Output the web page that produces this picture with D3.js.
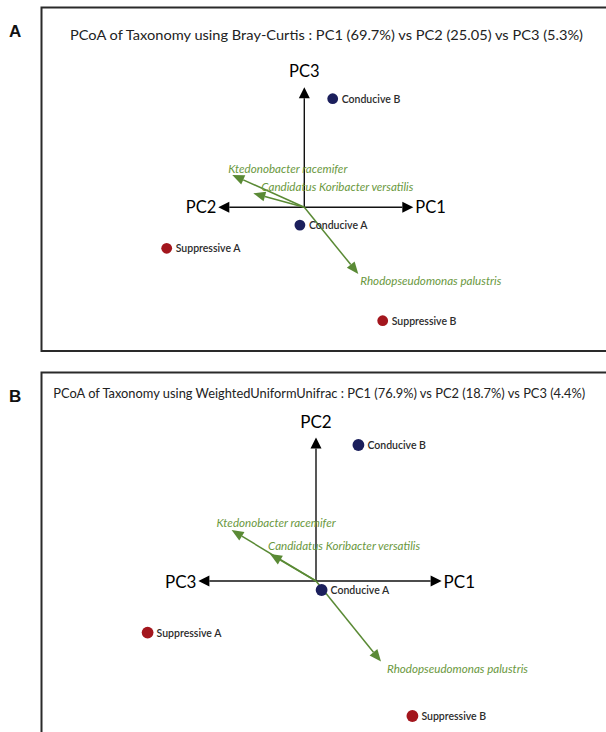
<!DOCTYPE html>
<html>
<head>
<meta charset="utf-8">
<script src="https://cdn.jsdelivr.net/npm/d3@7"></script>
<style>
  html, body { margin: 0; padding: 0; background: #fff; }
  svg { display: block; }
</style>
</head>
<body>
<svg id="fig" width="606" height="732"></svg>
<script>
// ---- data ---------------------------------------------------------------
const sampleNames  = ["Conducive A", "Conducive B", "Suppressive A", "Suppressive B"];
const sampleGroups = ["Conducive", "Conducive", "Suppressive", "Suppressive"];
const taxaNames    = ["Ktedonobacter racemifer", "Candidatus Koribacter versatilis", "Rhodopseudomonas palustris"];

// Bray-Curtis ordination (horizontal = PC1/PC2, vertical = PC3)
const braySampleX = [-0.022, 0.142, -0.688, 0.392];
const braySampleY = [-0.089, 0.543, -0.205, -0.567];
const brayTaxaX   = [-0.360, -0.255, 0.270];
const brayTaxaY   = [ 0.162,  0.070, -0.333];
const brayAxisX   = [-0.430, 0.545];   // PC2 arm (left), PC1 arm (right)
const brayAxisY   = [-0.600, 0.600];   // vertical extent, PC3 arm up
const brayAxisLabels = ["PC1", "PC2", "PC3"]; // right, left, up

// Weighted UniFrac ordination (horizontal = PC1/PC3, vertical = PC2)
const unifracSampleX = [0.028, 0.212, -0.842, 0.482];
const unifracSampleY = [-0.045, 0.680, -0.258, -0.675];
const unifracTaxaX   = [-0.422, -0.230, 0.325];
const unifracTaxaY   = [ 0.255,  0.135, -0.403];
const unifracAxisX   = [-0.588, 0.628];
const unifracAxisY   = [-0.720, 0.718];
const unifracAxisLabels = ["PC1", "PC2", "PC3"]; // right, up, left

const titles = [
  "PCoA of Taxonomy using Bray-Curtis : PC1 (69.7%) vs PC2 (25.05) vs PC3 (5.3%)",
  "PCoA of Taxonomy using WeightedUniformUnifrac : PC1 (76.9%) vs PC2 (18.7%) vs PC3 (4.4%)"
];
const panelLetters = ["A", "B"];

// ---- styling ------------------------------------------------------------
const groupColor = { Conducive: "#1b1f5c", Suppressive: "#a3161d" };
const arrowGreen = "#5a8a35";
const labelGreen = "#6a9840";
const FONT = "Lato, 'Open Sans', 'Liberation Sans', sans-serif";

const svg = d3.select("#fig");

// arrow head polygon pointing along (from -> tip)
function headPoints(x0, y0, x1, y1, len, wid) {
  const dx = x1 - x0, dy = y1 - y0, L = Math.hypot(dx, dy);
  const ux = dx / L, uy = dy / L, px = -uy, py = ux;
  const bx = x1 - ux * len, by = y1 - uy * len;
  return [[x1, y1], [bx + px * wid / 2, by + py * wid / 2], [bx - px * wid / 2, by - py * wid / 2]];
}

const panels = [
  {
    letter: panelLetters[0], title: titles[0],
    box: { x: 41.5, y: 7.5, w: 600, h: 343.5 },
    letterY: 37, titleX: 70, titleY: 39.5, titleW: 513, titleSize: 14,
    origin: [304.3, 207.3], k: 200,
    axisX: brayAxisX, axisY: brayAxisY,
    right: brayAxisLabels[0], left: brayAxisLabels[1], up: brayAxisLabels[2],
    sx: braySampleX, sy: braySampleY, tx: brayTaxaX, ty: brayTaxaY,
    r: 5.4, axisFont: 16.5,
    taxaShift: [[-4, -6], [8, -7], [2, 7]]
  },
  {
    letter: panelLetters[1], title: titles[1],
    box: { x: 41.5, y: 372.5, w: 600, h: 400 },
    letterY: 401.5, titleX: 53.3, titleY: 397.5, titleW: 532, titleSize: 12.5,
    origin: [316, 581], k: 200,
    axisX: unifracAxisX, axisY: unifracAxisY,
    right: unifracAxisLabels[0], up: unifracAxisLabels[1], left: unifracAxisLabels[2],
    sx: unifracSampleX, sy: unifracSampleY, tx: unifracTaxaX, ty: unifracTaxaY,
    r: 5.9, axisFont: 17,
    taxaShift: [[-15, -8], [-2, -9], [6, 7]]
  }
];

panels.forEach(p => {
  const g = svg.append("g");
  const [ox, oy] = p.origin;
  const x = d3.scaleLinear().domain(p.axisX).range([ox + p.axisX[0] * p.k, ox + p.axisX[1] * p.k]);
  const y = d3.scaleLinear().domain(p.axisY).range([oy - p.axisY[0] * p.k, oy - p.axisY[1] * p.k]);

  // frame
  g.append("rect")
    .attr("x", p.box.x).attr("y", p.box.y).attr("width", p.box.w).attr("height", p.box.h)
    .attr("fill", "none").attr("stroke", "#2a2a2a").attr("stroke-width", 2);

  // panel letter
  g.append("text").attr("x", 9).attr("y", p.letterY)
    .attr("font-family", "'Liberation Sans', Arial, sans-serif")
    .attr("font-weight", "bold").attr("font-size", 17).attr("fill", "#111")
    .text(p.letter);

  // title
  g.append("text").attr("x", p.titleX).attr("y", p.titleY)
    .attr("font-family", FONT).attr("font-size", p.titleSize).attr("fill", "#222")
    .attr("textLength", p.titleW).attr("lengthAdjust", "spacingAndGlyphs")
    .text(p.title);

  // axes: right, left and up arms with filled heads
  const x0 = x(0), y0 = y(0);
  const arms = [
    { x1: x(p.axisX[1]), y1: y0, label: p.right, anchor: "start", dx: 2, dy: 0 },
    { x1: x(p.axisX[0]), y1: y0, label: p.left, anchor: "end", dx: -2, dy: 0 },
    { x1: x0, y1: y(p.axisY[1]), label: p.up, anchor: "middle", dx: 0, dy: -16 }
  ];
  arms.forEach(a => {
    const head = headPoints(x0, y0, a.x1, a.y1, 11, 11);
    const bx = (head[1][0] + head[2][0]) / 2, by = (head[1][1] + head[2][1]) / 2;
    g.append("line").attr("x1", x0).attr("y1", y0).attr("x2", bx).attr("y2", by)
      .attr("stroke", "#111").attr("stroke-width", 1.4);
    g.append("polygon").attr("points", head.map(d => d.join(",")).join(" ")).attr("fill", "#000");
    g.append("text").attr("x", a.x1 + a.dx).attr("y", a.y1 + a.dy)
      .attr("text-anchor", a.anchor).attr("dominant-baseline", "central")
      .attr("font-family", FONT).attr("font-size", p.axisFont).attr("fill", "#000")
      .text(a.label);
  });

  // taxa vectors
  taxaNames.forEach((name, i) => {
    const tx = x(p.tx[i]), ty = y(p.ty[i]);
    const head = headPoints(x0, y0, tx, ty, 12, 10);
    const bx = (head[1][0] + head[2][0]) / 2, by = (head[1][1] + head[2][1]) / 2;
    g.append("line").attr("x1", x0).attr("y1", y0).attr("x2", bx).attr("y2", by)
      .attr("stroke", arrowGreen).attr("stroke-width", 1.5);
    g.append("polygon").attr("points", head.map(d => d.join(",")).join(" ")).attr("fill", arrowGreen);
    const [sdx, sdy] = p.taxaShift[i];
    g.append("text").attr("x", tx + sdx).attr("y", ty + sdy)
      .attr("dominant-baseline", "central")
      .attr("font-family", FONT).attr("font-style", "italic").attr("font-size", 11.6)
      .attr("fill", labelGreen)
      .text(name);
  });

  // samples
  sampleNames.forEach((name, i) => {
    const cx = x(p.sx[i]), cy = y(p.sy[i]);
    g.append("circle").attr("cx", cx).attr("cy", cy).attr("r", p.r)
      .attr("fill", groupColor[sampleGroups[i]]);
    g.append("text").attr("x", cx + 9).attr("y", cy)
      .attr("dominant-baseline", "central")
      .attr("font-family", FONT).attr("font-size", 10.5).attr("font-weight", 600)
      .attr("fill", "#2b2b2b")
      .text(name);
  });
});
</script>
</body>
</html>
